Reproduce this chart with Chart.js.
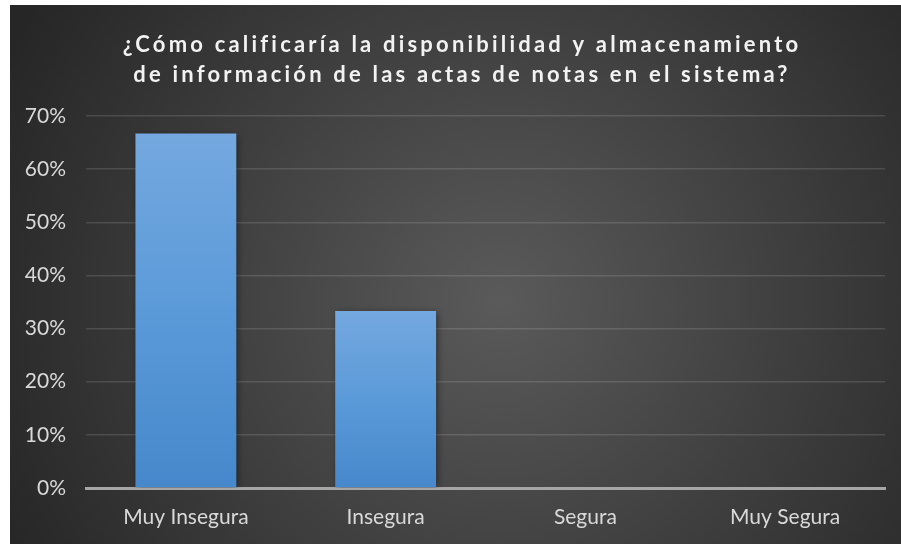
<!DOCTYPE html>
<html>
<head>
<meta charset="utf-8">
<script src="https://cdn.jsdelivr.net/npm/chart.js@4"></script>
<style>
    html, body { margin: 0; padding: 0; background: #ffffff; }
    #wrap { position: absolute; left: 10px; top: 5px; width: 891px; height: 539px; }
</style>
</head>
<body>
<div id="wrap"><canvas id="ratingChart"></canvas></div>
<script>
// Chart data
const categories = ['Muy Insegura', 'Insegura', 'Segura', 'Muy Segura'];
const shares = [0.667, 0.333, 0, 0];
const titleLines = [
    '¿Cómo calificaría la disponibilidad y almacenamiento',
    'de información de las actas de notas en el sistema?'
];

// Dark radial background, like the office chart style
const backgroundPlugin = {
    id: 'darkBackground',
    beforeDraw(chart) {
        const { ctx, width, height } = chart;
        const g = ctx.createRadialGradient(width * 0.55, height * 0.55, 0, width * 0.55, height * 0.55, width * 0.62);
        g.addColorStop(0, '#5a5a5a');
        g.addColorStop(1, '#262626');
        ctx.save();
        ctx.fillStyle = g;
        ctx.fillRect(0, 0, width, height);
        ctx.restore();
    }
};

// Title with letter spacing (the built-in title can't do that)
const spacedTitlePlugin = {
    id: 'spacedTitle',
    afterDraw(chart) {
        const { ctx } = chart;
        ctx.save();
        ctx.font = 'bold 22px Lato';
        ctx.fillStyle = '#f2f2f2';
        ctx.textAlign = 'center';
        ctx.textBaseline = 'middle';
        ctx.letterSpacing = '3.2px';
        titleLines.forEach((line, i) => ctx.fillText(line, 452, 40 + i * 30));
        ctx.restore();
    }
};

// Soft shadow to the right of the bars
const barShadowPlugin = {
    id: 'barShadow',
    beforeDatasetDraw(chart) {
        const { ctx } = chart;
        ctx.save();
        ctx.shadowColor = 'rgba(0, 0, 0, 0.45)';
        ctx.shadowBlur = 7;
        ctx.shadowOffsetX = 2;
        ctx.shadowOffsetY = 1;
    },
    afterDatasetDraw(chart) {
        chart.ctx.restore();
    }
};

const ctx = document.getElementById('ratingChart').getContext('2d');
new Chart(ctx, {
    type: 'bar',
    data: {
        labels: categories,
        datasets: [{
            data: shares,
            backgroundColor: (context) => {
                const chart = context.chart;
                const { chartArea, scales } = chart;
                if (!chartArea || !scales.y) return '#5b9bd5';
                const base = scales.y.getPixelForValue(0);
                const top = scales.y.getPixelForValue(context.raw || 0);
                if (base - top < 1) return '#5b9bd5';
                const gradient = chart.ctx.createLinearGradient(0, top, 0, base);
                gradient.addColorStop(0, '#74a8df');
                gradient.addColorStop(0.5, '#5b9ad9');
                gradient.addColorStop(1, '#4688cb');
                return gradient;
            },
            borderWidth: 0,
            barPercentage: 0.505,
            categoryPercentage: 1
        }]
    },
    options: {
        responsive: true,
        maintainAspectRatio: false,
        animation: false,
        layout: { padding: { top: 111, right: 16, bottom: 0, left: 0 } },
        plugins: {
            legend: { display: false },
            title: { display: false },
            tooltip: { enabled: false }
        },
        scales: {
            y: {
                min: 0,
                max: 0.7,
                afterFit: (scale) => { scale.width = 76; },
                ticks: {
                    stepSize: 0.1,
                    padding: 20,
                    color: '#d9d9d9',
                    font: { family: 'Lato', size: 21 },
                    callback: (v) => Math.round(v * 100) + '%'
                },
                grid: { color: 'rgba(255, 255, 255, 0.13)', lineWidth: 1.5, drawTicks: false },
                border: { display: false }
            },
            x: {
                afterFit: (scale) => { scale.height = 56; },
                ticks: {
                    padding: 17,
                    color: '#d9d9d9',
                    font: { family: 'Lato', size: 21 }
                },
                grid: { display: false, drawTicks: false },
                border: { display: true, color: '#a6a6a6', width: 3 }
            }
        }
    },
    plugins: [backgroundPlugin, barShadowPlugin, spacedTitlePlugin]
});
</script>
</body>
</html>
